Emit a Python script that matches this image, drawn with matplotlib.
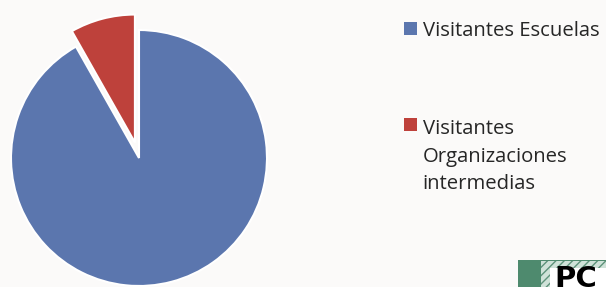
import matplotlib.pyplot as plt
from matplotlib.patches import Rectangle

labels = ['Visitantes Escuelas', 'Visitantes\nOrganizaciones\nintermedias']
values = [91.8, 8.2]
colors = ['#5B76AE', '#BE413B']
explode = [0, 0.125]

W, H = 606, 287
fig = plt.figure(figsize=(W / 100, H / 100), dpi=100)
fig.patch.set_facecolor('#FBFAF9')

# pie axes: centre at (139,158) px, radius 128 px
lim = 1.2
size = 2 * lim * 128
cx, cy = 139, H - 158
ax = fig.add_axes([(cx - size / 2) / W, (cy - size / 2) / H, size / W, size / H])
wedges, _ = ax.pie(values, colors=colors, explode=explode, startangle=90,
                   counterclock=False,
                   wedgeprops=dict(edgecolor='white', linewidth=1.5))
ax.set_xlim(-lim, lim)
ax.set_ylim(-lim, lim)
ax.set_aspect('equal')
ax.axis('off')

fs = 14.6
leg = fig.legend(wedges, labels, loc='upper left',
                 bbox_to_anchor=(404 / W, 1 - 21 / H), frameon=False,
                 prop={'family': 'Open Sans', 'size': fs},
                 handlelength=0.62, handleheight=0.62, handletextpad=0.3,
                 labelspacing=3.85, borderaxespad=0, borderpad=0)
for t in leg.get_texts():
    t.set_color('#262626')
    t.set_linespacing(1.5)
for h in leg.legend_handles:
    h.set_edgecolor('none')
# put the red square next to the first line of its label
h2 = leg.legend_handles[1]
h2.set_y(h2.get_y() + 23.5)

# logo in the lower right corner
fig.patches.append(Rectangle((518 / W, 0), 88 / W, 27 / H, transform=fig.transFigure,
                             facecolor='#4E8A6E', edgecolor='none'))
fig.patches.append(Rectangle((541 / W, 0), 65 / W, 26 / H, transform=fig.transFigure,
                             facecolor='#CFE2D8', edgecolor='#5E927A', hatch='////',
                             linewidth=0))
fig.patches.append(Rectangle((550 / W, 0), 56 / W, 19 / H, transform=fig.transFigure,
                             facecolor='white', edgecolor='none'))
fig.text(554 / W, -6 / H, 'PC', fontsize=21, fontweight='bold', color='black',
         family='DejaVu Sans', va='bottom', ha='left')

fig.savefig('out.png', dpi=100, facecolor=fig.get_facecolor())
